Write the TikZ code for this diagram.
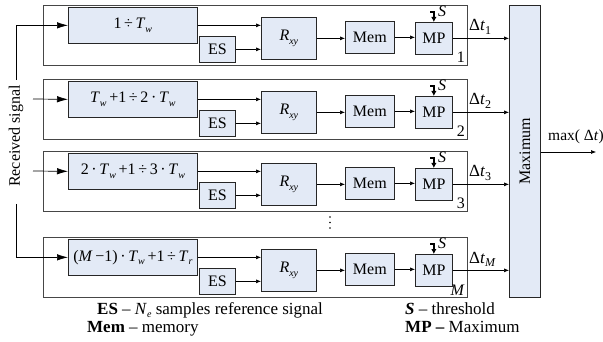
\documentclass[tikz,border=0pt]{standalone}
\usepackage{fontspec}
\setmainfont{Liberation Serif}
\usetikzlibrary{arrows.meta}
\definecolor{boxfill}{RGB}{227,234,246}
\definecolor{framegray}{RGB}{70,70,70}
% lowered small index, as in T_w
\newcommand\lowsub[1]{\raisebox{-0.45ex}{\fontsize{10}{10}\selectfont #1}}
\newcommand\itm[1]{\textit{#1}}
\tikzset{
  every node/.style={font=\fontsize{16}{19}\selectfont},
  blk/.style={draw=black!85, fill=boxfill, line width=0.7pt, inner sep=0pt, anchor=north west},
  frm/.style={draw=framegray, line width=1pt, inner sep=0pt, anchor=north west,
              minimum width=424pt, minimum height=60pt},
  arr/.style={-{Latex[length=5pt,width=4pt]}, line width=0.6pt},
  inarr/.style={-{Latex[length=11pt,width=6.5pt]}, line width=0.7pt},
  thrarr/.style={-{Latex[length=5pt,width=5.5pt]}, line width=1.5pt},
  lbl/.style={inner sep=0pt},
  biglbl/.style={inner sep=0pt, font=\fontsize{17}{20}\selectfont},
  dot/.style={circle, fill=black, inner sep=0pt, minimum size=1.6pt},
}
% one processing channel: id, frame top, range text, channel mark, delay index
\newcommand\chanrow[5]{%
  \node[frm] (frame#1) at (43,#2) {};
  \node[blk, minimum width=129pt, minimum height=36pt] (rng#1) at (68,{#2+2}) {#3};
  \node[blk, minimum width=36pt, minimum height=26pt] (es#1) at (199,{#2+31}) {ES};
  \node[blk, minimum width=55pt, minimum height=42pt] (rxy#1) at (261,{#2+12}) {\itm{R}\lowsub{\itm{xy}}};
  \node[blk, minimum width=49pt, minimum height=32pt] (mem#1) at (345,{#2+16}) {Mem};
  \node[blk, minimum width=37pt, minimum height=32pt] (mp#1) at (415,{#2+17}) {MP};
  \coordinate (thr#1) at (430,{#2+7});
  \draw[thrarr] (thr#1) -| (mp#1.north);
  \node[lbl, anchor=west] (s#1) at (438,{#2+6}) {\itm{S}};
  \node[lbl, anchor=base east] (n#1) at (465,{#2+58}) {#4};
  \draw[arr] (rng#1.east) -- (rng#1.east -| rxy#1.west);
  \draw[arr] (es#1.east) -- (es#1.east -| rxy#1.west);
  \draw[arr] (rxy#1.east) -- (rxy#1.east -| mem#1.west);
  \draw[arr] (mem#1.east) -- (mem#1.east -| mp#1.west);
  \draw[arr] (mp#1.east) -- (mp#1.east -| maxbox.west);
  \node[biglbl, anchor=base west] (dt#1) at (469,{#2+26}) {Δ\itm{t}\lowsub{\fontsize{12}{12}\selectfont #5}};
}
\begin{document}
\begin{tikzpicture}[x=1pt,y=-1pt]
\useasboundingbox (0,0) rectangle (603,342);

% maximum selector
\node[blk, minimum width=31pt, minimum height=292pt] (maxbox) at (509,5) {};
\node[lbl, rotate=90] (maxtxt) at (maxbox.center) {Maximum};
\coordinate (out) at (596,152);
\draw[arr] (maxbox.east |- out) -- (out);
\node[lbl, anchor=base west, font=\fontsize{15.5}{18}\selectfont] (outlbl) at (548,141) {max( Δ\itm{t})};

% channels
\chanrow{1}{5}{1\,÷\,\itm{T}\lowsub{\itm{w}}}{1}{1}
\chanrow{2}{79}{\itm{T}\lowsub{\itm{w}}\,+1\,÷\,2\,·\,\itm{T}\lowsub{\itm{w}}}{2}{2}
\chanrow{3}{151}{2\,·\,\itm{T}\lowsub{\itm{w}}\,+1\,÷\,3\,·\,\itm{T}\lowsub{\itm{w}}}{3}{3}
\chanrow{4}{237}{(\itm{M}\,−1)\,·\,\itm{T}\lowsub{\itm{w}}\,+1\,÷\,\itm{T}\lowsub{\itm{r}}}{\itm{M}}{\itm{M}}

% further channels omitted
\node[dot] (dota) at (330,217) {};
\node[dot] (dotb) at (330,222.5) {};
\node[dot] (dotc) at (330,228) {};

% received signal bus
\node[lbl, rotate=90] (rx) at (16,136) {Received signal};
\coordinate (bustop) at (16,80);
\coordinate (busbot) at (16,204);
\coordinate (in2) at (33,99);
\coordinate (in3) at (33,171);
\draw[inarr] (bustop) |- (rng1.west);
\draw[inarr] (in2) -- (rng2.west);
\draw[inarr] (in3) -- (rng3.west);
\draw[inarr] (busbot) |- (rng4.west);

% legend
\node[biglbl, anchor=base west] (leg1) at (97,314) {\textbf{ES} – \itm{N}\lowsub{\itm{e}} samples reference signal};
\node[biglbl, anchor=base west] (leg2) at (87,332) {\textbf{Mem} – memory};
\node[biglbl, anchor=base west] (leg3) at (405,314) {\textbf{\itm{S}} – threshold};
\node[biglbl, anchor=base west] (leg4) at (405,332) {\textbf{MP –} Maximum};
\end{tikzpicture}
\end{document}
